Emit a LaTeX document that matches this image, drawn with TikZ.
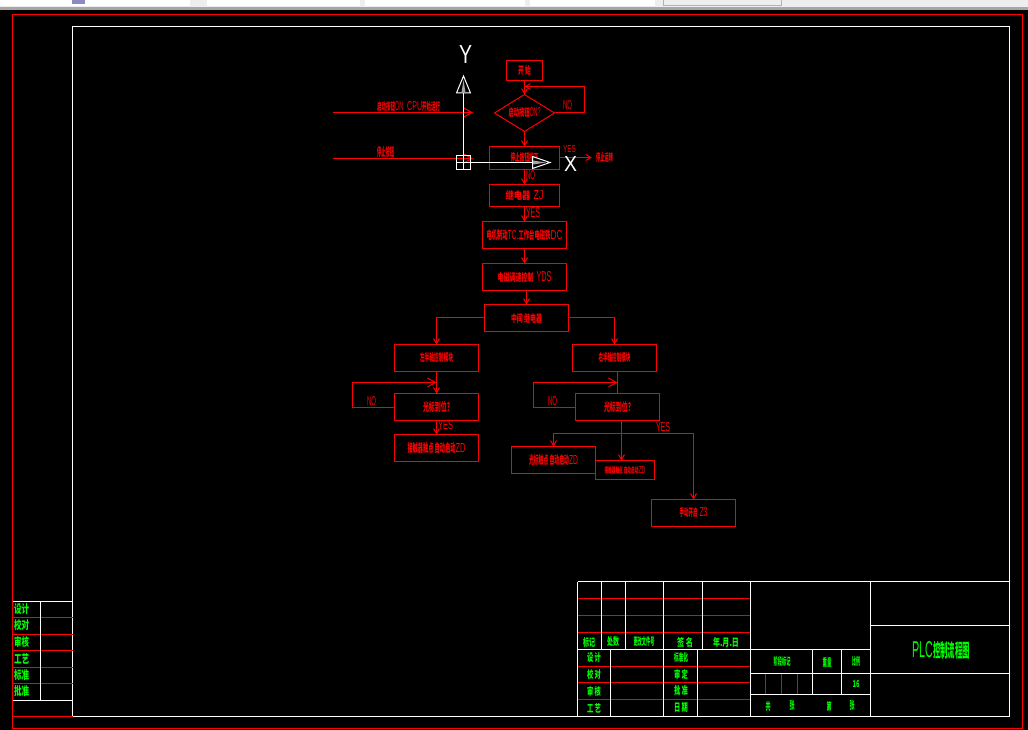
\documentclass[tikz,border=0pt]{standalone}
\usepackage{graphicx}
\usepackage{fontspec}
\setmainfont{Noto Sans CJK SC}
\newfontfamily\latfont{Liberation Sans}
\usetikzlibrary{shapes.geometric, arrows.meta, positioning}
\definecolor{rojop}{HTML}{FF0000}
\definecolor{verdep}{HTML}{00FF00}
\definecolor{barrap}{HTML}{EEEEEE}
\newcommand{\cad}[3]{\resizebox{#1pt}{#2pt}{#3}}
\newcommand{\lat}[3]{\resizebox{#1pt}{#2pt}{\latfont\mdseries #3}}

\begin{document}
\begin{tikzpicture}[
    x=1pt, y=-1pt,
    node distance=15pt and 0pt,
    caja/.style={rectangle, draw=rojop, line width=1pt, inner sep=0pt, outer sep=0pt, text=rojop, font=\bfseries, minimum width=84pt, minimum height=27pt},
    rombo/.style={diamond, draw=rojop, line width=1pt, inner sep=0pt, outer sep=0pt, text=rojop, font=\bfseries, minimum width=60pt, minimum height=37pt, aspect=1.6},
    flecha/.style={-{Straight Barb[length=5pt,width=6pt]}, line width=1pt, rojop},
    flechag/.style={-{Straight Barb[length=8pt,width=9pt]}, line width=1pt, rojop},
    linea/.style={line width=1pt, rojop},
    marco/.style={line width=1pt, white},
    rejilla/.style={line width=1pt, rojop},
    rotulo/.style={inner sep=0pt, text=rojop, font=\bfseries},
    campo/.style={inner sep=0pt, text=verdep, font=\bfseries},
    eje/.style={inner sep=0pt, text=white}
]

\useasboundingbox (0,0) rectangle (1028,730);
\fill[black] (0,0) rectangle (1028,730);
\fill[barrap] (0,0) rectangle (1028,7);
\fill[gray!70] (0,7) rectangle (1028,10);
\foreach \xa/\xb in {0/190, 207/360, 365/525, 530/655}
    \fill[white] (\xa,0) rectangle (\xb,6);
\draw[gray!60, line width=1pt] (663,0) -- (663,6) -- (781,6) -- (781,0);
\fill[blue!30!gray!70] (72,0) rectangle (85,4);

\draw[line width=1pt, rojop] (12.5,14.5) rectangle (1022.5,728.5);
\draw[marco] (72.5,26.5) rectangle (1009.5,716.5);

\node (inicio) [caja, minimum width=36pt, minimum height=20pt] at (524.5,70.5) {\cad{13}{9}{开 始}};
\node (pregunta) [rombo, below=14pt of inicio] {\cad{21}{9}{启动按钮}\lat{11}{9}{ON?}};
\node (parada) [caja, minimum width=70pt, minimum height=23pt, below=of pregunta] {\cad{28}{9}{停止按钮按下}\hspace{9pt}};
\node (rele) [caja, minimum width=70pt, minimum height=22pt, below=of parada] {\cad{25}{9}{继电器}\hspace{3pt}\lat{10}{9}{ZJ}};
\node (freno) [caja, below=of rele] {\cad{21}{10}{电机制动}\lat{11}{9}{TC,}\cad{32}{10}{工作台电磁铁}\lat{12}{9}{DC}};
\node (motor) [caja, below=of freno] {\cad{36}{9}{电磁调速控制}\hspace{3pt}\lat{15}{10}{YDS}\hspace{21pt}};
\node (medio) [caja, below=14pt of motor, xshift=2pt] {\cad{31}{9}{中间 继电器}};

\node (izq) [caja, below=13pt of medio, xshift=-90pt] {\cad{33}{9}{左半轴控制模块}};
\node (der) [caja, below=13pt of medio, xshift=88pt] {\cad{32}{9}{右半轴控制模块}};
\node (izqp) [caja, below=22pt of izq] {\cad{27}{10}{光标到位?}\hspace{9pt}};
\node (derp) [caja, below=22pt of der, xshift=3pt] {\cad{27}{10}{光标到位?}\hspace{9pt}};
\node (izqf) [caja, below=14pt of izqp] {\cad{48}{10}{接触器触点 自动启动}\lat{10}{9}{ZD}};
\node (dera) [caja, below=26pt of derp, xshift=-64pt] {\cad{40}{10}{光标触点 自动启动}\lat{9}{9}{ZD}\hspace{9pt}};
\node (derb) [caja, minimum width=59pt, minimum height=19pt, below=40pt of derp, xshift=7.5pt] {\cad{34}{7}{接触器触点 自动启动}\lat{7}{7}{ZD}};
\node (derc) [caja, below=79pt of derp, xshift=76pt] {\cad{18}{9}{手动开启}\hspace{2pt}\lat{8}{9}{Z3}\hspace{6pt}};

\node (salida) [rotulo, inner xsep=4pt] at (604.5,157.5) {\cad{17}{9}{停止运转}};
\node (entrada1) [rotulo, anchor=south west] at (377,112) {\cad{18}{9}{启动按钮}\lat{8}{9}{ON}\hspace{4pt}\lat{15}{9}{CPU}\cad{18}{9}{开始运行}};
\node (entrada2) [rotulo, anchor=south west] at (377,158) {\cad{17}{10}{停止按钮}};

\coordinate (ini1) at (333,112.5);
\coordinate (fin1) at (473,112.5);
\coordinate (ini2) at (333,158.5);
\coordinate (fin2) at (473,158.5);
\coordinate (retorno) at (524.5,86.5);
\coordinate (vueltai) at (436.5,382.5);
\coordinate (vueltad) at (617.5,382.5);
\coordinate (ramal) at (621.5,433.5);

\draw [flecha] (inicio) -- (pregunta);
\draw [flecha] (pregunta) -- (parada);
\draw [flecha] (parada) -- (rele);
\draw [flecha] (rele) -- (freno);
\draw [flecha] (freno) -- (motor);
\draw [flecha] (motor.south -| medio.north) -- (medio.north);
\draw [flecha] ([yshift=.5pt]pregunta.east) -- ++(30,0) |- (retorno);
\draw [flecha] ([yshift=.5pt]parada.east) -- (salida.west);
\draw [flechag] (ini1) -- (fin1);
\draw [flechag] (ini2) -- (fin2);
\draw [flecha] ([yshift=.5pt]medio.west) -| (izq.north);
\draw [flecha] ([yshift=.5pt]medio.east) -| (der.north);
\draw [flecha] (izq) -- (izqp);
\draw [linea] (der.south -| derp.north) -- (derp.north);
\draw [flechag] ([yshift=-.5pt]izqp.west) -- ++(-42,0) |- (vueltai);
\draw [flechag] ([yshift=-.5pt]derp.west) -- ++(-42,0) |- (vueltad);
\draw [flecha] (izqp) -- (izqf);
\draw [flecha] (derp.south -| ramal) -- (derb.north -| ramal);
\draw [flecha] (ramal) -| (dera.north);
\draw [flecha] (ramal) -| (derc.north);

\foreach \cx/\cy/\w/\h/\txt [count=\i] in {
    567.5/105.5/9/9/NO, 569.5/149.5/13/7/YES, 530.5/175.5/9/9/NO, 533/213/14/10/YES,
    371.5/401.5/9/9/NO, 552.5/401.5/9/9/NO, 445.5/425.5/15/9/YES, 663/427.5/14/9/YES}
    \node (resp\i) [rotulo] at (\cx,\cy) {\lat{\w}{\h}{\txt}};

\draw[line width=1pt, white] (463.5,162.5) -- (463.5,93) (463.5,162.5) -- (532,162.5);
\draw[line width=1pt, white] (456.5,155.5) rectangle (470.5,169.5) (463.5,155.5) -- (463.5,169.5) (456.5,162.5) -- (470.5,162.5);
\draw[line width=1pt, white, fill=black] (456.5,93) -- (463.5,76) -- (470.5,93) -- cycle;
\fill[gray!70] (461.5,92.5) -- (463.5,80) -- (465.5,92.5) -- cycle;
\draw[line width=1pt, white, fill=black] (532.5,156.5) -- (550,162.5) -- (532.5,168.5) -- cycle;
\fill[gray!70] (533,160.5) -- (546,162.5) -- (533,164.5) -- cycle;
\node (ejey) [eje] at (465.5,55) {\lat{13}{18}{Y}};
\node (ejex) [eje] at (570.5,164.5) {\lat{13}{15}{X}};

\foreach \ya in {617, 634, 650, 667, 683, 716}
    \draw[rejilla] (12.5,\ya.5) -- (72.5,\ya.5);
\draw[marco] (12.5,601.5) -- (72.5,601.5);
\draw[marco] (12.5,700.5) -- (72.5,700.5);
\draw[marco] (40.5,601.5) -- (40.5,700.5);
\foreach \cy/\txt [count=\i] in {609.5/设计, 625.5/校对, 642/审核, 658.5/工艺, 675/标准, 691.5/批准}
    \node (lado\i) [campo] at (21.5,\cy) {\cad{15}{10}{\txt}};

\foreach \ya in {598, 615, 632}
    \draw[rejilla] (577.5,\ya.5) -- (750.5,\ya.5);
\foreach \ya in {666, 682, 699}
    \draw[rejilla] (577.5,\ya.5) -- (750.5,\ya.5);
\foreach \xa in {765, 781, 797}
    \draw[rejilla] (\xa.5,673.5) -- (\xa.5,694.5);
\draw[marco] (577.5,581.5) -- (1009.5,581.5);
\draw[marco] (577.5,649.5) -- (870.5,649.5);
\draw[marco] (750.5,673.5) -- (1009.5,673.5);
\draw[marco] (750.5,694.5) -- (870.5,694.5);
\draw[marco] (870.5,625.5) -- (1009.5,625.5);
\foreach \xa in {577, 750, 870}
    \draw[marco] (\xa.5,581.5) -- (\xa.5,716.5);
\foreach \xa in {601, 625, 663, 702}
    \draw[marco] (\xa.5,581.5) -- (\xa.5,649.5);
\foreach \xa in {610, 663, 697}
    \draw[marco] (\xa.5,649.5) -- (\xa.5,716.5);
\foreach \xa in {812, 841}
    \draw[marco] (\xa.5,649.5) -- (\xa.5,694.5);

\foreach \cx/\cy/\w/\h/\txt [count=\i] in {
    589/642/12/9/标记, 613/642/12/9/处数, 644/642/21/9/更改文件号, 685/642/16/9/签 名, 726/642/26/9/年.月.日,
    594/658/14/9/设 计, 594/674/14/9/校 对, 594/691/14/9/审 核, 594/708/14/9/工 艺,
    681/658/14/9/标准化, 681/674/14/9/审 定, 681/691/14/9/批 准, 681/708/14/9/日 期,
    782/662/17/9/阶段标记, 827/662/9/9/重量, 856/662/8/9/比例, 856/684/7/7/16,
    768/706/5/9/共, 792/706/5/9/张, 829/706/5/9/第, 852/706/5/9/张}
    \node (dato\i) [campo] at (\cx,\cy) {\cad{\w}{\h}{\txt}};
\node (titulo) [campo] at (941,650) {\lat{21}{16}{PLC}\cad{37}{16}{控制流程图}};

\end{tikzpicture}
\end{document}
